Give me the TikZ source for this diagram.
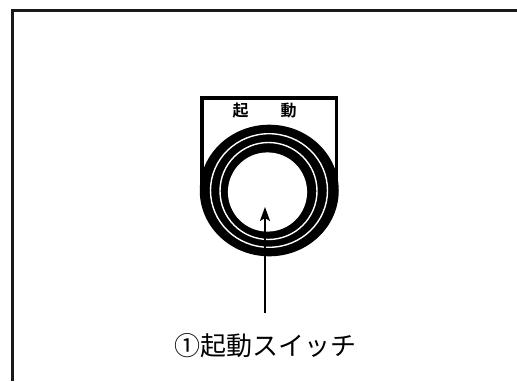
\documentclass[tikz,border=0pt]{standalone}
\usepackage{fontspec}
\newfontfamily\jpfont{Noto Sans CJK JP}
\newfontfamily\jpbold{Noto Sans CJK JP Bold}
\usetikzlibrary{arrows.meta}
\begin{document}
\begin{tikzpicture}[x=1pt,y=-1pt,
  frame/.style={line width=2.3pt,draw=black!90},
  plateline/.style={line width=3.8pt,draw=black},
  gapline/.style={line width=1.4pt,draw=white},
  platetext/.style={font=\jpbold\fontsize{16}{18}\selectfont,inner sep=0pt},
  caption/.style={font=\jpfont\fontsize{26}{30}\selectfont,inner sep=0pt},
  pointer/.style={line width=1.9pt,-{Stealth[length=14pt,width=10pt,inset=3pt]}}]
\useasboundingbox (0,0) rectangle (517,381);
\fill[white] (0,0) rectangle (517,381);
% outer panel frame (runs past the right and bottom edges)
\draw[frame] (12.5,381) -- (12.5,10.5) -- (517,10.5);
% push-button name plate
\draw[plateline,line join=miter] (202,192) -- (202,98.3) -- (336.5,98.3) -- (336.5,192);
% button bezel rings
\fill[black] (269.25,190.5) ellipse [x radius=69.5,y radius=65.8];
\draw[gapline] (269,190.5) ellipse [x radius=58.5,y radius=56.8];
\draw[gapline] (268.5,191) circle [radius=48.5];
\fill[white] (267.5,192) circle [radius=39.6];
% plate legend
\node[platetext] (kiL) at (240.5,111) {起};
\node[platetext] (doL) at (288.5,111) {動};
% caption and pointer
\node[caption] (label) at (265.5,346) {①起動スイッチ};
\coordinate (tail) at (265,313);
\coordinate (tip) at (265,207);
\draw[pointer] (tail) -- (tip);
\end{tikzpicture}
\end{document}
